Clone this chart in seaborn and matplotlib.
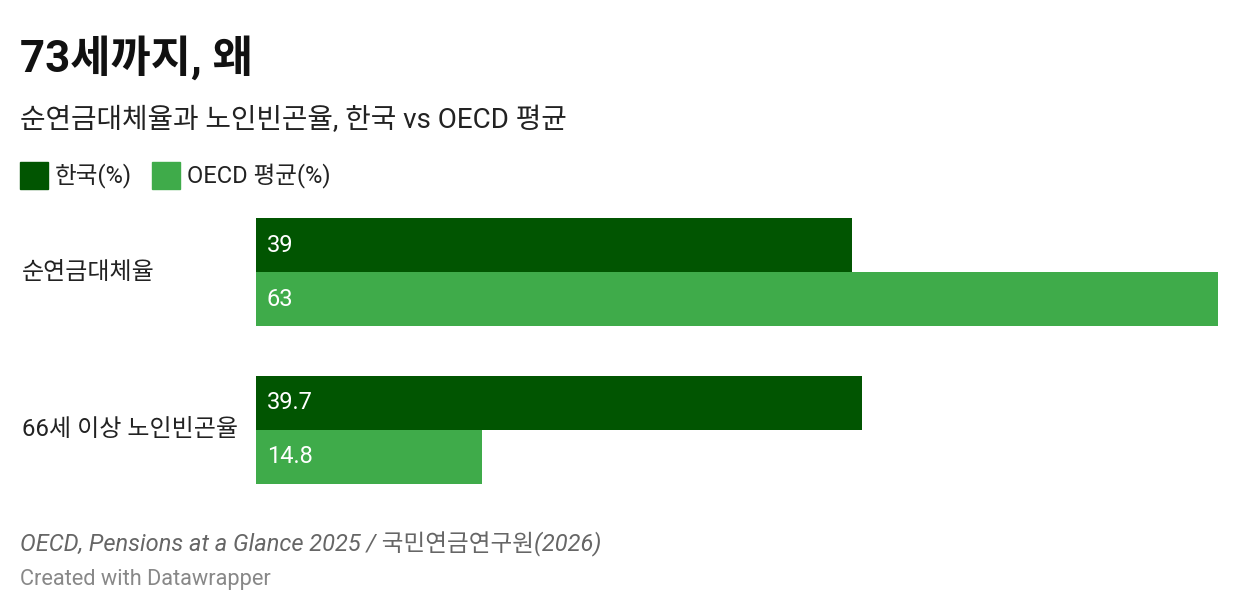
import pandas as pd
import seaborn as sns
import matplotlib.pyplot as plt
import matplotlib.transforms as mtransforms
from matplotlib.patches import Rectangle

categories = ['순연금대체율', '66세 이상 노인빈곤율']
series = ['한국(%)', 'OECD 평균(%)']
korea = [39, 39.7]
oecd = [63, 14.8]
value_labels = {'한국(%)': ['39', '39.7'], 'OECD 평균(%)': ['63', '14.8']}

colors = ['#015501', '#3fab4a']

df = pd.DataFrame({
    'category': categories * 2,
    'series': [series[0]] * 2 + [series[1]] * 2,
    'value': korea + oecd,
})

sns.set_theme(style='white')
plt.rcParams['font.family'] = ['Roboto', 'Noto Sans CJK KR']

fig = plt.figure(figsize=(12.4, 6.14), dpi=100)
ax = fig.add_axes([256 / 1240, 1 - 484 / 614, (1218 - 256) / 1240, 266 / 614])

sns.barplot(data=df, y='category', x='value', hue='series', orient='h',
            palette=colors, width=0.684, saturation=1, ax=ax, legend=False,
            linewidth=0)

ax.set_xlim(0, 63)
ax.set_ylim(1.342, -0.342)
ax.axis('off')

# value labels inside bars
for cont, name in zip(ax.containers, series):
    for bar, lab in zip(cont, value_labels[name]):
        cy = bar.get_y() + bar.get_height() / 2
        ax.annotate(lab, (0, cy), xytext=(11, 0), textcoords='offset pixels',
                    ha='left', va='center', color='white', fontsize=17)

# category labels on the left
trans = mtransforms.blended_transform_factory(fig.transFigure, ax.transData)
for i, c in enumerate(categories):
    fig.text(22 / 1240, i, c, transform=trans, ha='left', va='center',
             fontsize=17.3, color='#222222')

# title and subtitle
fig.text(20 / 1240, 1 - 58 / 614, '73세까지, 왜', fontsize=31.5, fontweight='bold',
         ha='left', va='center', color='#111111')
fig.text(20 / 1240, 1 - 120 / 614, '순연금대체율과 노인빈곤율, 한국 vs OECD 평균',
         fontsize=20, ha='left', va='center', color='#222222')

# legend
leg_x = [20, 152]
for x0, name, col in zip(leg_x, series, colors):
    fig.patches.append(Rectangle((x0 / 1240, 1 - 189 / 614), 28 / 1240, 27 / 614,
                                 transform=fig.transFigure, color=col))
    fig.text((x0 + 35) / 1240, 1 - 176 / 614, name, fontsize=17, ha='left',
             va='center', color='#222222')

# footer
fig.text(20 / 1240, 1 - 544 / 614, 'OECD, Pensions at a Glance 2025 / 국민연금연구원(2026)',
         fontsize=17, style='italic', ha='left', va='center', color='#666666')
fig.text(20 / 1240, 1 - 580 / 614, 'Created with Datawrapper',
         fontsize=15.7, ha='left', va='center', color='#888888')

fig.savefig('out.png', dpi=100)
